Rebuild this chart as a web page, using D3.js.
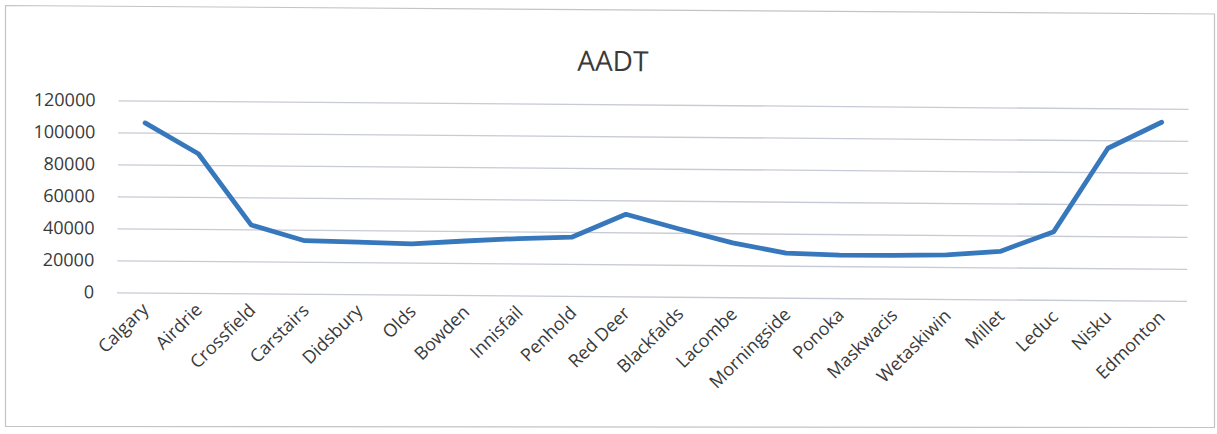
<!DOCTYPE html>
<html>
<head>
<meta charset="utf-8">
<script src="https://cdn.jsdelivr.net/npm/d3@7"></script>
<style>
  html, body { margin: 0; padding: 0; background: #fff; }
  svg { display: block; }
  text { font-family: "Open Sans", "Noto Sans", sans-serif; fill: #3a3a3a; }
</style>
</head>
<body>
<svg id="chart" width="1217" height="434"></svg>
<script>
// Annual average daily traffic along the Calgary–Edmonton corridor
const chartTitle = "AADT";
const towns = ["Calgary", "Airdrie", "Crossfield", "Carstairs", "Didsbury", "Olds", "Bowden",
  "Innisfail", "Penhold", "Red Deer", "Blackfalds", "Lacombe", "Morningside", "Ponoka",
  "Maskwacis", "Wetaskiwin", "Millet", "Leduc", "Nisku", "Edmonton"];
const aadt = [106000, 87000, 42700, 33200, 32600, 31800, 33800,
  35600, 36800, 51300, 42400, 34000, 27800, 26800,
  27000, 27500, 30000, 42600, 95000, 111500];
const yTicks = [0, 20000, 40000, 60000, 80000, 100000, 120000];

const svg = d3.select("#chart");
const plot = { left: 117, right: 1187, top: 100.3, bottom: 292.3 };

// outer chart frame
svg.append("path")
  .attr("d", "M5.5,5.5 L1214.5,14 L1214.5,427.5 L5.5,426.5 Z")
  .attr("fill", "#fff")
  .attr("stroke", "#c4c4c4")
  .attr("stroke-width", 1.2);

// the whole chart sits very slightly tilted
const g = svg.append("g")
  .attr("transform", `rotate(0.46, ${plot.left}, ${plot.bottom})`);

const x = d3.scaleBand().domain(towns).range([plot.left, plot.right]).padding(0);
const y = d3.scaleLinear().domain([0, 120000]).range([plot.bottom, plot.top]);

// horizontal gridlines + value labels
const yAxis = d3.axisLeft(y)
  .tickValues(yTicks)
  .tickSize(-(plot.right - plot.left))
  .tickPadding(23)
  .tickFormat(d3.format("d"));

const ya = g.append("g")
  .attr("transform", `translate(${plot.left},0)`)
  .call(yAxis);
ya.select(".domain").remove();
ya.selectAll(".tick line")
  .attr("stroke", "#c7cbd5")
  .attr("stroke-width", 1.3);
ya.selectAll(".tick text")
  .attr("font-size", 18)
  .attr("fill", "#3a3a3a");

// category labels, slanted
const xAxis = d3.axisBottom(x).tickSize(0).tickPadding(0);
const xa = g.append("g")
  .attr("transform", `translate(0,${plot.bottom})`)
  .call(xAxis);
xa.select(".domain").remove();
xa.selectAll(".tick text")
  .attr("font-size", 18)
  .attr("fill", "#3a3a3a")
  .attr("text-anchor", "end")
  .attr("dy", null)
  .attr("y", 0)
  .attr("transform", "translate(6,18) rotate(-45)");

// traffic line
const line = d3.line()
  .x((d, i) => x(towns[i]) + x.bandwidth() / 2)
  .y(d => y(d));

g.append("path")
  .datum(aadt)
  .attr("fill", "none")
  .attr("stroke", "#3778bd")
  .attr("stroke-width", 4.8)
  .attr("stroke-linejoin", "round")
  .attr("stroke-linecap", "round")
  .attr("d", line);

// title
g.append("text")
  .attr("x", 611)
  .attr("y", 67)
  .attr("text-anchor", "middle")
  .attr("font-size", 28)
  .attr("fill", "#333")
  .text(chartTitle);
</script>
</body>
</html>
